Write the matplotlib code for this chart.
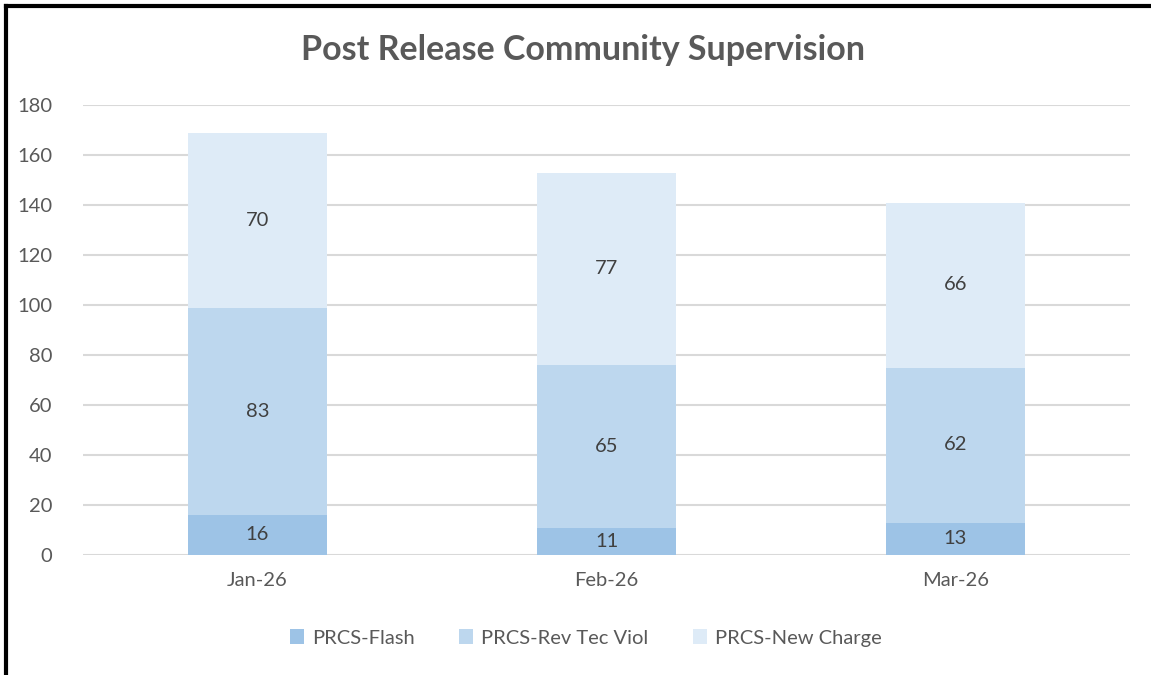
import matplotlib
matplotlib.use("Agg")
import matplotlib.pyplot as plt
import numpy as np

months = ["Jan-26", "Feb-26", "Mar-26"]
flash = [16, 11, 13]
rev_tec = [83, 65, 62]
new_charge = [70, 77, 66]
series_names = ["PRCS-Flash", "PRCS-Rev Tec Viol", "PRCS-New Charge"]
colors = ["#9DC3E6", "#BDD7EE", "#DEEBF7"]

plt.rcParams["font.family"] = ["Lato", "DejaVu Sans"]
txt = "#595959"

fig = plt.figure(figsize=(11.51, 6.75), dpi=100)
ax = fig.add_axes([83 / 1151, 1 - 555 / 675, (1130 - 83) / 1151, 450 / 675])

x = np.arange(len(months))
bottom = np.zeros(len(months))
for vals, name, c in zip([flash, rev_tec, new_charge], series_names, colors):
    bars = ax.bar(x, vals, 0.4, bottom=bottom, color=c, label=name, zorder=2)
    ax.bar_label(bars, labels=[str(v) for v in vals], label_type="center",
                 fontsize=14.5, color="#404040")
    bottom += np.array(vals)

ax.set_xlim(-0.5, len(months) - 0.5)
ax.set_ylim(0, 180)
ax.set_yticks(range(0, 181, 20))
ax.set_xticks(x)
ax.set_xticklabels(months)
ax.grid(axis="y", color="#D9D9D9", lw=1.5, zorder=0)
for s in ax.spines.values():
    s.set_visible(False)
ax.tick_params(length=0, labelsize=14.5, colors=txt, pad=12)
ax.tick_params(axis="y", pad=22)

fig.text(583 / 1151, 1 - 50 / 675, "Post Release Community Supervision",
         ha="center", va="center", fontsize=24.5, fontweight="bold", color=txt)

ax.legend(loc="center", bbox_to_anchor=(586 / 1151, 1 - 638 / 675),
          bbox_transform=fig.transFigure, ncol=3, frameon=False, fontsize=14.5,
          labelcolor=txt, handlelength=0.7, handleheight=0.7, columnspacing=2.2,
          handletextpad=0.4)

# border on top and left
fig.add_artist(plt.Line2D([6 / 1151, 1], [1 - 6 / 675, 1 - 6 / 675], color="black", lw=3,
                          transform=fig.transFigure))
fig.add_artist(plt.Line2D([6 / 1151, 6 / 1151], [0, 1 - 6 / 675], color="black", lw=3,
                          transform=fig.transFigure))

fig.savefig("out.png", dpi=100)
